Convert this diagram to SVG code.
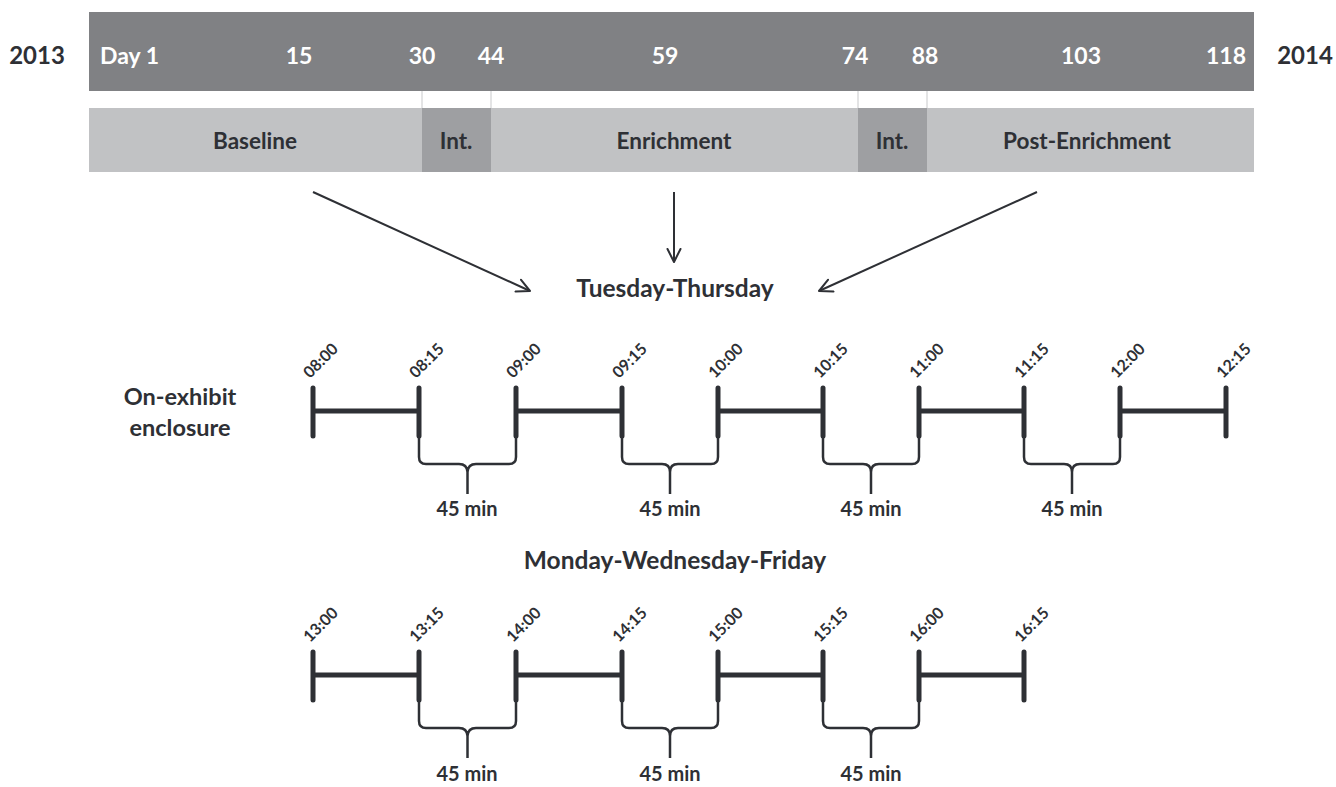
<svg xmlns="http://www.w3.org/2000/svg" width="1336" height="787" viewBox="0 0 1336 787">
<defs>
<marker id="arr" viewBox="0 0 16 16" refX="14" refY="8" markerWidth="16" markerHeight="16" markerUnits="userSpaceOnUse" orient="auto">
<path d="M1,1.5 L14,8 L1,14.5" fill="none" stroke="#2e3035" stroke-width="2" stroke-linecap="round" stroke-linejoin="round"/>
</marker>
</defs>
<style>
text{font-family:Lato,"Open Sans","Liberation Sans",sans-serif;font-weight:bold;}
.yr{font-size:24px;fill:#2e3035;text-anchor:middle;}
.day{font-size:23px;fill:#ffffff;text-anchor:middle;}
.ph{font-size:22.5px;fill:#2e3035;text-anchor:middle;}
.hd{font-size:24.5px;fill:#2e3035;text-anchor:middle;}
.lbl{font-size:23.5px;fill:#2e3035;text-anchor:middle;}
.tm{font-size:16px;fill:#2e3035;}
.mn{font-size:20px;fill:#2e3035;text-anchor:middle;}
.tick{stroke:#2e3035;stroke-width:5;stroke-linecap:round;fill:none;}
.seg{stroke:#2e3035;stroke-width:5;fill:none;}
.brace{stroke:#2e3035;stroke-width:2.5;fill:none;stroke-linejoin:round;}
.conn{stroke:#2e3035;stroke-width:2;fill:none;}
.lite{fill:#c1c2c4;}
.int{fill:#9e9fa2;}
</style>

<g id="years">
<text class="yr" x="37" y="64">2013</text>
<text class="yr" x="1305" y="64">2014</text>
</g>

<g id="day-bar">
<rect x="89" y="12" width="1165" height="79" fill="#808184"/>
<text class="day" x="100" y="64" style="text-anchor:start">Day 1</text>
<text class="day" x="299" y="64">15</text>
<text class="day" x="422" y="64">30</text>
<text class="day" x="491" y="64">44</text>
<text class="day" x="665" y="64">59</text>
<text class="day" x="855" y="64">74</text>
<text class="day" x="925" y="64">88</text>
<text class="day" x="1081" y="64">103</text>
<text class="day" x="1246" y="64" style="text-anchor:end">118</text>
</g>

<g id="phase-links" stroke="#c8c9cb" stroke-width="1">
<line x1="422" y1="91" x2="422" y2="108"/>
<line x1="491" y1="91" x2="491" y2="108"/>
<line x1="858" y1="91" x2="858" y2="108"/>
<line x1="927" y1="91" x2="927" y2="108"/>
</g>

<g id="phase-baseline">
<rect class="lite" x="89" y="108" width="333" height="64"/>
<text class="ph" x="255" y="149">Baseline</text>
</g>
<g id="phase-int1">
<rect class="int" x="422" y="108" width="69" height="64"/>
<text class="ph" x="456" y="149">Int.</text>
</g>
<g id="phase-enrichment">
<rect class="lite" x="491" y="108" width="367" height="64"/>
<text class="ph" x="674" y="149">Enrichment</text>
</g>
<g id="phase-int2">
<rect class="int" x="858" y="108" width="69" height="64"/>
<text class="ph" x="892" y="149">Int.</text>
</g>
<g id="phase-post">
<rect class="lite" x="927" y="108" width="327" height="64"/>
<text class="ph" x="1087" y="149">Post-Enrichment</text>
</g>

<g id="connectors">
<line class="conn" x1="313" y1="192" x2="530" y2="291" marker-end="url(#arr)"/>
<line class="conn" x1="674" y1="192" x2="674" y2="262" marker-end="url(#arr)"/>
<line class="conn" x1="1037" y1="192" x2="819" y2="291" marker-end="url(#arr)"/>
</g>

<g id="tue-thu-title">
<text class="hd" x="675" y="297">Tuesday-Thursday</text>
</g>

<g id="on-exhibit-label">
<text class="lbl" x="180" y="405">On-exhibit</text>
<text class="lbl" x="180" y="436">enclosure</text>
</g>

<g id="schedule-tue-thu">
<g class="seg">
<line x1="313" y1="411" x2="419" y2="411"/>
<line x1="516" y1="411" x2="622" y2="411"/>
<line x1="718" y1="411" x2="823" y2="411"/>
<line x1="919" y1="411" x2="1024" y2="411"/>
<line x1="1120" y1="411" x2="1226" y2="411"/>
</g>
<g class="tick">
<line x1="313" y1="388" x2="313" y2="436"/>
<line x1="419" y1="388" x2="419" y2="436"/>
<line x1="516" y1="388" x2="516" y2="436"/>
<line x1="622" y1="388" x2="622" y2="436"/>
<line x1="718" y1="388" x2="718" y2="436"/>
<line x1="823" y1="388" x2="823" y2="436"/>
<line x1="919" y1="388" x2="919" y2="436"/>
<line x1="1024" y1="388" x2="1024" y2="436"/>
<line x1="1120" y1="388" x2="1120" y2="436"/>
<line x1="1226" y1="388" x2="1226" y2="436"/>
</g>
<g class="brace">
<path d="M419,436 V457 Q419,464 426,464 H459 Q467,464 467.5,472 V494 M516,436 V457 Q516,464 509,464 H476 Q468,464 467.5,472"/>
<path d="M622,436 V457 Q622,464 629,464 H662 Q670,464 670,472 V494 M718,436 V457 Q718,464 711,464 H678 Q670,464 670,472"/>
<path d="M823,436 V457 Q823,464 830,464 H863 Q871,464 871,472 V494 M919,436 V457 Q919,464 912,464 H879 Q871,464 871,472"/>
<path d="M1024,436 V457 Q1024,464 1031,464 H1064 Q1072,464 1072,472 V494 M1120,436 V457 Q1120,464 1113,464 H1080 Q1072,464 1072,472"/>
</g>
<g>
<text class="tm" transform="translate(310,379) rotate(-45)">08:00</text>
<text class="tm" transform="translate(416,379) rotate(-45)">08:15</text>
<text class="tm" transform="translate(513,379) rotate(-45)">09:00</text>
<text class="tm" transform="translate(619,379) rotate(-45)">09:15</text>
<text class="tm" transform="translate(715,379) rotate(-45)">10:00</text>
<text class="tm" transform="translate(820,379) rotate(-45)">10:15</text>
<text class="tm" transform="translate(916,379) rotate(-45)">11:00</text>
<text class="tm" transform="translate(1021,379) rotate(-45)">11:15</text>
<text class="tm" transform="translate(1117,379) rotate(-45)">12:00</text>
<text class="tm" transform="translate(1223,379) rotate(-45)">12:15</text>
</g>
<g>
<text class="mn" x="467" y="516">45 min</text>
<text class="mn" x="670" y="516">45 min</text>
<text class="mn" x="871" y="516">45 min</text>
<text class="mn" x="1072" y="516">45 min</text>
</g>
</g>

<g id="mon-wed-fri-title">
<text class="hd" x="675" y="569">Monday-Wednesday-Friday</text>
</g>

<g id="schedule-mon-wed-fri">
<g class="seg">
<line x1="313" y1="675" x2="419" y2="675"/>
<line x1="516" y1="675" x2="622" y2="675"/>
<line x1="718" y1="675" x2="823" y2="675"/>
<line x1="919" y1="675" x2="1024" y2="675"/>
</g>
<g class="tick">
<line x1="313" y1="652" x2="313" y2="700"/>
<line x1="419" y1="652" x2="419" y2="700"/>
<line x1="516" y1="652" x2="516" y2="700"/>
<line x1="622" y1="652" x2="622" y2="700"/>
<line x1="718" y1="652" x2="718" y2="700"/>
<line x1="823" y1="652" x2="823" y2="700"/>
<line x1="919" y1="652" x2="919" y2="700"/>
<line x1="1024" y1="652" x2="1024" y2="700"/>
</g>
<g class="brace">
<path d="M419,700 V721 Q419,728 426,728 H459 Q467,728 467.5,736 V758 M516,700 V721 Q516,728 509,728 H476 Q468,728 467.5,736"/>
<path d="M622,700 V721 Q622,728 629,728 H662 Q670,728 670,736 V758 M718,700 V721 Q718,728 711,728 H678 Q670,728 670,736"/>
<path d="M823,700 V721 Q823,728 830,728 H863 Q871,728 871,736 V758 M919,700 V721 Q919,728 912,728 H879 Q871,728 871,736"/>
</g>
<g>
<text class="tm" transform="translate(310,643) rotate(-45)">13:00</text>
<text class="tm" transform="translate(416,643) rotate(-45)">13:15</text>
<text class="tm" transform="translate(513,643) rotate(-45)">14:00</text>
<text class="tm" transform="translate(619,643) rotate(-45)">14:15</text>
<text class="tm" transform="translate(715,643) rotate(-45)">15:00</text>
<text class="tm" transform="translate(820,643) rotate(-45)">15:15</text>
<text class="tm" transform="translate(916,643) rotate(-45)">16:00</text>
<text class="tm" transform="translate(1021,643) rotate(-45)">16:15</text>
</g>
<g>
<text class="mn" x="467" y="781">45 min</text>
<text class="mn" x="670" y="781">45 min</text>
<text class="mn" x="871" y="781">45 min</text>
</g>
</g>
</svg>
